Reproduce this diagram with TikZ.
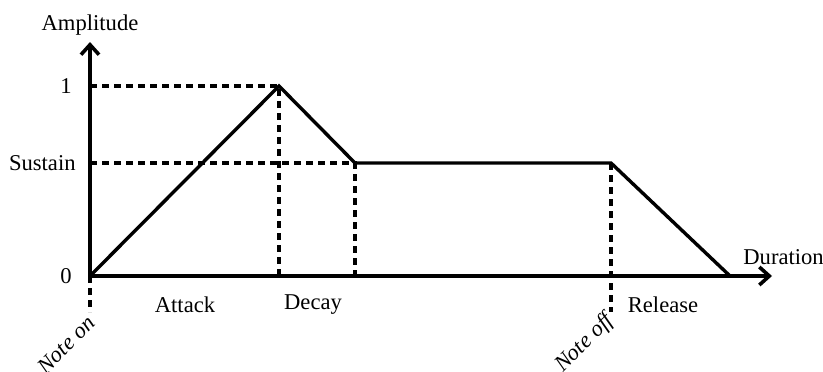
\documentclass[tikz,border=0pt]{standalone}
\usepackage{fontspec}
\setmainfont{Liberation Serif}
\usetikzlibrary{arrows.meta,positioning}
\tikzset{
  axis/.style={line width=1.8pt,-{Straight Barb[length=5pt,width=9pt]}},
  env/.style={line width=1.7pt,line join=miter},
  guide/.style={line width=1.7pt,dash pattern=on 3.5pt off 2.5pt},
  lab/.style={font=\fontsize{11.3}{13}\selectfont,inner sep=1pt},
  mark label/.style={lab,font=\fontsize{11.3}{13}\selectfont\itshape,rotate=45,anchor=east},
}
\begin{document}
\begin{tikzpicture}[x=0.5pt,y=0.5pt]
    \useasboundingbox (0,0) rectangle (823,371);
    % envelope corners
    \coordinate (o) at (90,95);
    \coordinate (peak) at (279,285);
    \coordinate (sus) at (355,208);
    \coordinate (off) at (611,208);
    \coordinate (end) at (730,95);
    \coordinate (ytip) at (90,329);
    \coordinate (xtip) at (772,95);
    \coordinate (onlow) at (90,59);
    \coordinate (offlow) at (611,59);
    \coordinate (one) at (90,285);
    \coordinate (slev) at (90,208);
    \coordinate (pkb) at (279,95);
    \coordinate (susb) at (355,95);
    % axes
    \draw[axis] (o) -- (ytip);
    \draw[axis] (o) -- (xtip);
    \node[lab,above=2pt of ytip] (amp) {Amplitude};
    \node[lab,anchor=west] (dur) at (741,114) {Duration};
    \node[lab,left=8pt of one] (l1) {1};
    \node[lab,left=6pt of slev] (ls) {Sustain};
    \node[lab,left=8pt of o] (l0) {0};
    % guides
    \draw[guide] (one) -- (peak) -- (pkb);
    \draw[guide] (slev) -- (sus) -- (susb);
    \draw[guide] (off) -- (offlow);
    \draw[guide] (o) -- (onlow);
    % envelope
    \draw[env] (o) -- (peak) -- (sus) -- (off) -- (end);
    % phases
    \node[lab] (att) at (185,66) {Attack};
    \node[lab] (dec) at (313,66) {Decay};
    \node[lab] (rel) at (663,66) {Release};
    \node[mark label] (non) at (93,53) {Note on};
    \node[mark label] (noff) at (612,55) {Note off};
\end{tikzpicture}
\end{document}
